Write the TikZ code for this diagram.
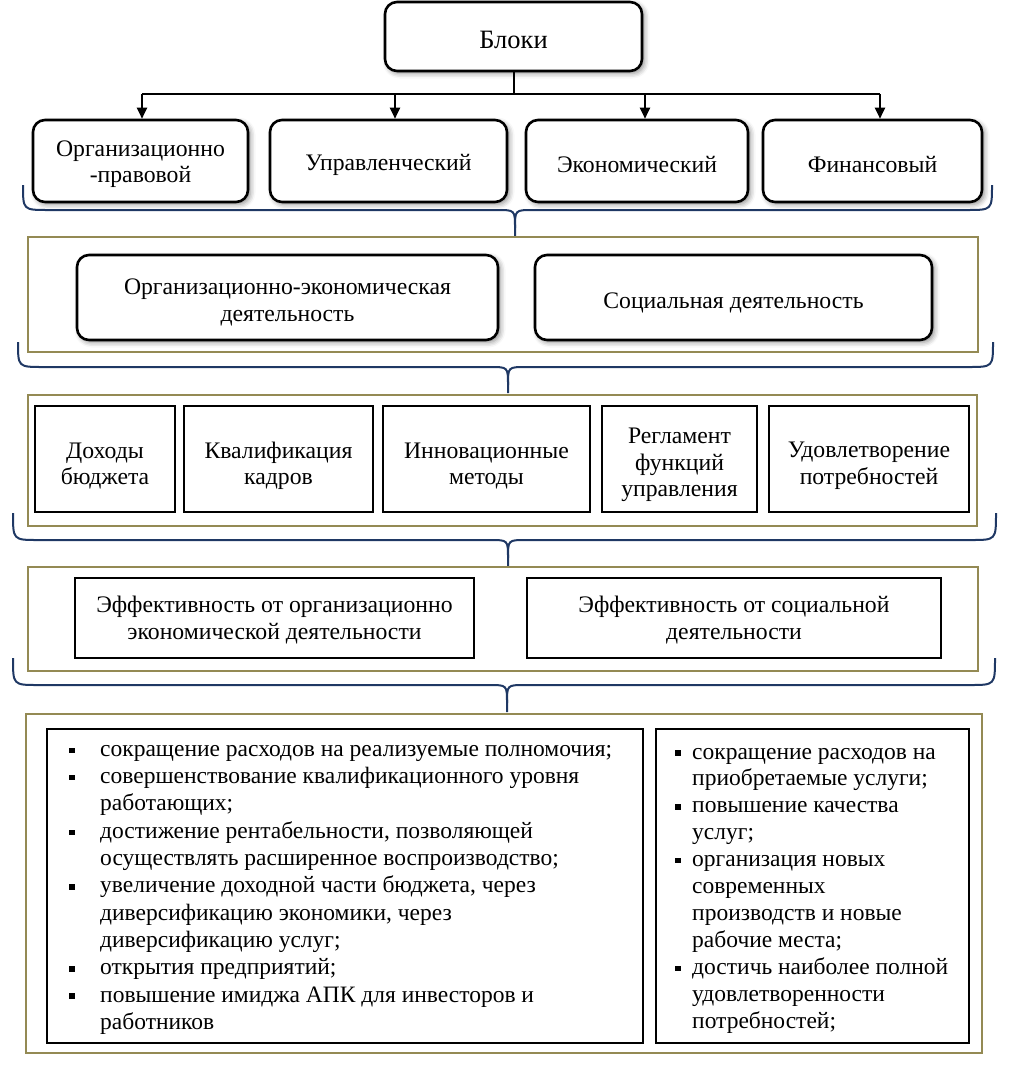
\documentclass[tikz,border=0pt]{standalone}
\usepackage{fontspec}
\setmainfont{Liberation Serif}
\usetikzlibrary{arrows.meta,shadows.blur}
\definecolor{framecol}{HTML}{948A54}
\definecolor{bracecol}{HTML}{1F3864}
\newcommand{\mybul}{\rule[3.2pt]{5.5pt}{5.5pt}}
\newcommand{\bulL}{\strut\makebox[31pt][l]{\mybul}}
\newcommand{\indL}{\strut\hspace*{31pt}}
\newcommand{\bulR}{\strut\makebox[17pt][l]{\mybul}}
\newcommand{\indR}{\strut\hspace*{17pt}}
\newcommand{\drawbrace}[6]{%
  \draw[brace] (#1,#3) .. controls (#1,#4) .. ({#1+25},#4) -- ({#5-18},#4)
     .. controls (#5,#4) .. (#5,{#4+18}) -- (#5,#6);
  \draw[brace] (#5,{#4+18}) .. controls (#5,#4) .. ({#5+18},#4) -- ({#2-25},#4)
     .. controls (#2,#4) .. (#2,#3);}
\begin{document}
\begin{tikzpicture}[x=1pt,y=-1pt,
  txt/.style={font=\fontsize{23.7}{26.5}\selectfont, align=center, inner sep=0pt},
  rbox/.style={draw, line width=2.6pt, rounded corners=12pt, fill=white,
     blur shadow={shadow xshift=2.5pt, shadow yshift=-2.5pt, shadow blur radius=5pt, shadow opacity=45}, inner sep=0pt},
  sbox/.style={draw, line width=2.6pt, fill=white, inner sep=0pt},
  lbox/.style={draw, line width=2.6pt, fill=white, inner sep=0pt},
  frame/.style={draw=framecol, line width=2.8pt, inner sep=0pt},
  brace/.style={draw=bracecol, line width=2pt},
  conn/.style={line width=2pt},
  arr/.style={conn, -{Triangle[length=11pt, width=10pt]}},
  list/.style={font=\fontsize{23.5}{27.3}\selectfont, align=left, inner sep=0pt, anchor=north west}]
\useasboundingbox (0,0) rectangle (1027,1074);

% top
\node[rbox, minimum width=257, minimum height=69] (top) at (513.5,36.5) {};
\node[txt, font=\fontsize{26.5}{30}\selectfont] (topt) at ([yshift=-3pt]top.center) {Блоки};

% level 2
\node[rbox, minimum width=215, minimum height=82] (o1) at (140.5,161) {};
\node[rbox, minimum width=237, minimum height=82] (o2) at (388.5,161) {};
\node[rbox, minimum width=222, minimum height=82] (o3) at (637,161) {};
\node[rbox, minimum width=219, minimum height=82] (o4) at (872.5,161) {};
\node[txt] (o1t) at ([yshift=-3pt]o1.center) {Организационно\\-правовой};
\node[txt] (o2t) at ([yshift=-4pt]o2.center) {Управленческий};
\node[txt] (o3t) at ([yshift=-4pt]o3.center) {Экономический};
\node[txt] (o4t) at ([yshift=-4pt]o4.center) {Финансовый};

\coordinate (hc) at (513.5,94);
\coordinate (h1) at (142,94);
\coordinate (h2) at (395,94);
\coordinate (h3) at (645,94);
\coordinate (h4) at (880,94);
\draw[conn] (top.south) -- (hc);
\draw[conn] (h1) -- (h4);
\draw[arr] (h1) -- (h1 |- o1.north);
\draw[arr] (h2) -- (h2 |- o2.north);
\draw[arr] (h3) -- (h3 |- o3.north);
\draw[arr] (h4) -- (h4 |- o4.north);

\drawbrace{23}{992}{185}{210}{515}{237}

% level 3
\node[frame, minimum width=950, minimum height=115] (f2) at (503,294.5) {};
\node[rbox, minimum width=421, minimum height=85] (a1) at (287.5,297.5) {};
\node[rbox, minimum width=397, minimum height=85] (a2) at (733.5,297.5) {};
\node[txt] (a1t) at ([yshift=-5pt]a1.center) {Организационно-экономическая\\деятельность};
\node[txt] (a2t) at ([yshift=-5pt]a2.center) {Социальная деятельность};

\drawbrace{18}{993}{342}{367}{508}{393}

% level 4
\node[frame, minimum width=949, minimum height=131] (f3) at (502.5,460.5) {};
\node[sbox, minimum width=140, minimum height=106] (c1) at (105,459) {};
\node[sbox, minimum width=189, minimum height=106] (c2) at (278.5,459) {};
\node[sbox, minimum width=207, minimum height=106] (c3) at (486.5,459) {};
\node[sbox, minimum width=155, minimum height=106] (c4) at (679.5,459) {};
\node[sbox, minimum width=200, minimum height=106] (c5) at (869,459) {};
\node[txt] (c1t) at ([yshift=-7pt]c1.center) {Доходы\\бюджета};
\node[txt] (c2t) at ([yshift=-7pt]c2.center) {Квалификация\\кадров};
\node[txt] (c3t) at ([yshift=-7pt]c3.center) {Инновационные\\методы};
\node[txt] (c4t) at ([yshift=-6pt]c4.center) {Регламент\\функций\\управления};
\node[txt] (c5t) at ([yshift=-7pt]c5.center) {Удовлетворение\\потребностей};

\drawbrace{13}{996}{513}{540}{508}{566}

% level 5
\node[frame, minimum width=950, minimum height=104] (f4) at (503,619) {};
\node[sbox, minimum width=399, minimum height=80] (e1) at (274.5,618) {};
\node[sbox, minimum width=414, minimum height=80] (e2) at (734,618) {};
\node[txt] (e1t) at ([yshift=-2pt]e1.center) {Эффективность от организационно\\экономической деятельности};
\node[txt] (e2t) at ([yshift=-2pt]e2.center) {Эффективность от социальной\\деятельности};

\drawbrace{13}{995}{658}{685}{507}{712}

% level 6
\node[frame, minimum width=956, minimum height=339] (f5) at (504,883.5) {};
\node[lbox, minimum width=596, minimum height=314] (l5) at (345,886) {};
\node[lbox, minimum width=313, minimum height=314] (r5) at (812.5,886) {};

\node[list] (ltext) at (69,737) {%
\bulL сокращение расходов на реализуемые полномочия;\\
\bulL совершенствование квалификационного уровня\\
\indL работающих;\\
\bulL достижение рентабельности, позволяющей\\
\indL осуществлять расширенное воспроизводство;\\
\bulL увеличение доходной части бюджета, через\\
\indL диверсификацию экономики, через\\
\indL диверсификацию услуг;\\
\bulL открытия предприятий;\\
\bulL повышение имиджа АПК для инвесторов и\\
\indL работников};

\node[list, font=\fontsize{23.5}{26.9}\selectfont] (rtext) at (675,740) {%
\bulR сокращение расходов на\\
\indR приобретаемые услуги;\\
\bulR повышение качества\\
\indR услуг;\\
\bulR организация новых\\
\indR современных\\
\indR производств и новые\\
\indR рабочие места;\\
\bulR достичь наиболее полной\\
\indR удовлетворенности\\
\indR потребностей;};
\end{tikzpicture}
\end{document}
